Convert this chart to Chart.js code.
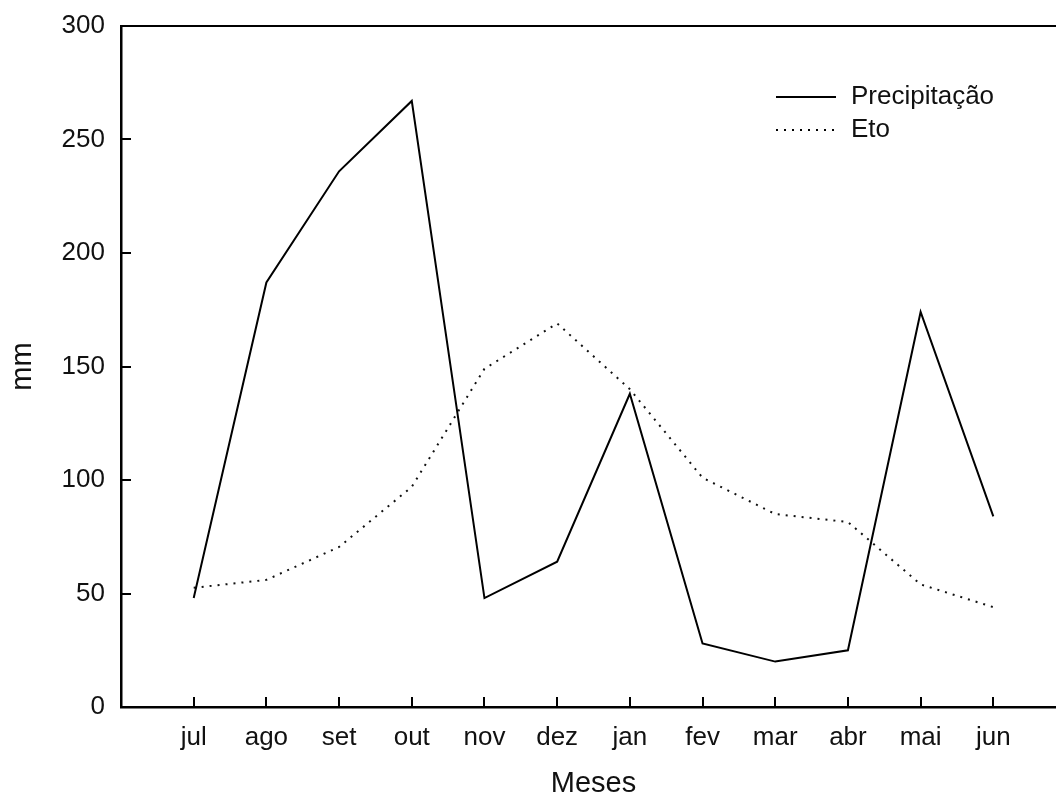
<!DOCTYPE html>
<html>
<head>
<meta charset="utf-8">
<script src="https://cdn.jsdelivr.net/npm/chart.js@4.4.1/dist/chart.umd.min.js"></script>
<style>
  html, body { margin: 0; padding: 0; background: #fff; overflow: hidden; }
  #wrap { width: 1066px; height: 807px; }
</style>
</head>
<body>
<div id="wrap"><canvas id="chart"></canvas></div>
<script>
const months = ['jul', 'ago', 'set', 'out', 'nov', 'dez', 'jan', 'fev', 'mar', 'abr', 'mai', 'jun'];
const precipitacao = [48, 187, 236, 267, 48, 64, 138, 28, 20, 25, 174, 84];
const eto = [52.5, 56, 70.5, 97, 149, 169, 140, 101, 85, 81.5, 54, 44];
const yTicks = [0, 50, 100, 150, 200, 250, 300];

const FONT = 'Liberation Sans, Arial, sans-serif';

function toPoints(values) {
    return values.map((v, i) => ({ x: i, y: v }));
}

// inward tick marks, top frame line and the legend inside the plot
const framePlugin = {
    id: 'frame',
    afterDraw(chart) {
        const { ctx, chartArea, scales } = chart;
        ctx.save();
        ctx.strokeStyle = '#000';
        ctx.lineWidth = 2;
        ctx.beginPath();
        ctx.moveTo(chartArea.left, chartArea.top);
        ctx.lineTo(chartArea.right, chartArea.top);
        ctx.stroke();

        ctx.beginPath();
        months.forEach((m, i) => {
            const x = Math.round(scales.x.getPixelForValue(i));
            ctx.moveTo(x, chartArea.bottom);
            ctx.lineTo(x, chartArea.bottom - 10);
        });
        yTicks.forEach(v => {
            if (v === 0 || v === 300) return;
            const y = Math.round(scales.y.getPixelForValue(v));
            ctx.moveTo(chartArea.left, y);
            ctx.lineTo(chartArea.left + 10, y);
        });
        ctx.stroke();

        // legend
        ctx.font = '26px ' + FONT;
        ctx.fillStyle = '#111';
        ctx.textBaseline = 'middle';
        chart.data.datasets.forEach((ds, i) => {
            const y = 97 + i * 33;
            ctx.beginPath();
            ctx.lineWidth = ds.borderWidth;
            ctx.setLineDash(ds.borderDash || []);
            ctx.moveTo(776, y);
            ctx.lineTo(836, y);
            ctx.stroke();
            ctx.setLineDash([]);
            ctx.fillText(ds.label, 851, y);
        });
        ctx.restore();
    }
};

new Chart(document.getElementById('chart'), {
    type: 'line',
    data: {
        datasets: [
            {
                label: 'Precipitação',
                data: toPoints(precipitacao),
                borderColor: '#000',
                borderWidth: 2,
                pointRadius: 0,
                tension: 0
            },
            {
                label: 'Eto',
                data: toPoints(eto),
                borderColor: '#111',
                borderWidth: 2,
                borderDash: [2, 6],
                pointRadius: 0,
                tension: 0
            }
        ]
    },
    plugins: [framePlugin],
    options: {
        responsive: true,
        maintainAspectRatio: false,
        animation: false,
        layout: { padding: { top: 26, right: 0, left: 0, bottom: 0 } },
        plugins: {
            legend: { display: false },
            tooltip: { enabled: false }
        },
        scales: {
            x: {
                type: 'linear',
                min: -1,
                max: 12,
                afterBuildTicks: axis => {
                    axis.ticks = months.map((m, i) => ({ value: i }));
                },
                afterFit: s => { s.height = 100; s.paddingLeft = 0; s.paddingRight = 0; },
                grid: { display: false, drawTicks: false },
                border: { display: true, color: '#000', width: 2.5 },
                ticks: {
                    autoSkip: false,
                    maxRotation: 0,
                    padding: 15,
                    color: '#111',
                    font: { family: FONT, size: 26 },
                    callback: v => months[v] || ''
                },
                title: {
                    display: true,
                    text: 'Meses',
                    color: '#111',
                    padding: { top: 0, bottom: 6 },
                    font: { family: FONT, size: 29 }
                }
            },
            y: {
                min: 0,
                max: 300,
                afterBuildTicks: axis => {
                    axis.ticks = yTicks.map(v => ({ value: v }));
                },
                afterFit: s => { s.width = 121; s.paddingTop = 0; s.paddingBottom = 0; },
                grid: { display: false, drawTicks: false },
                border: { display: true, color: '#000', width: 2.5 },
                ticks: {
                    padding: 16,
                    color: '#111',
                    font: { family: FONT, size: 26 }
                },
                title: {
                    display: true,
                    text: 'mm',
                    color: '#111',
                    padding: { top: 6, bottom: 0 },
                    font: { family: FONT, size: 29 }
                }
            }
        }
    }
});
</script>
</body>
</html>
